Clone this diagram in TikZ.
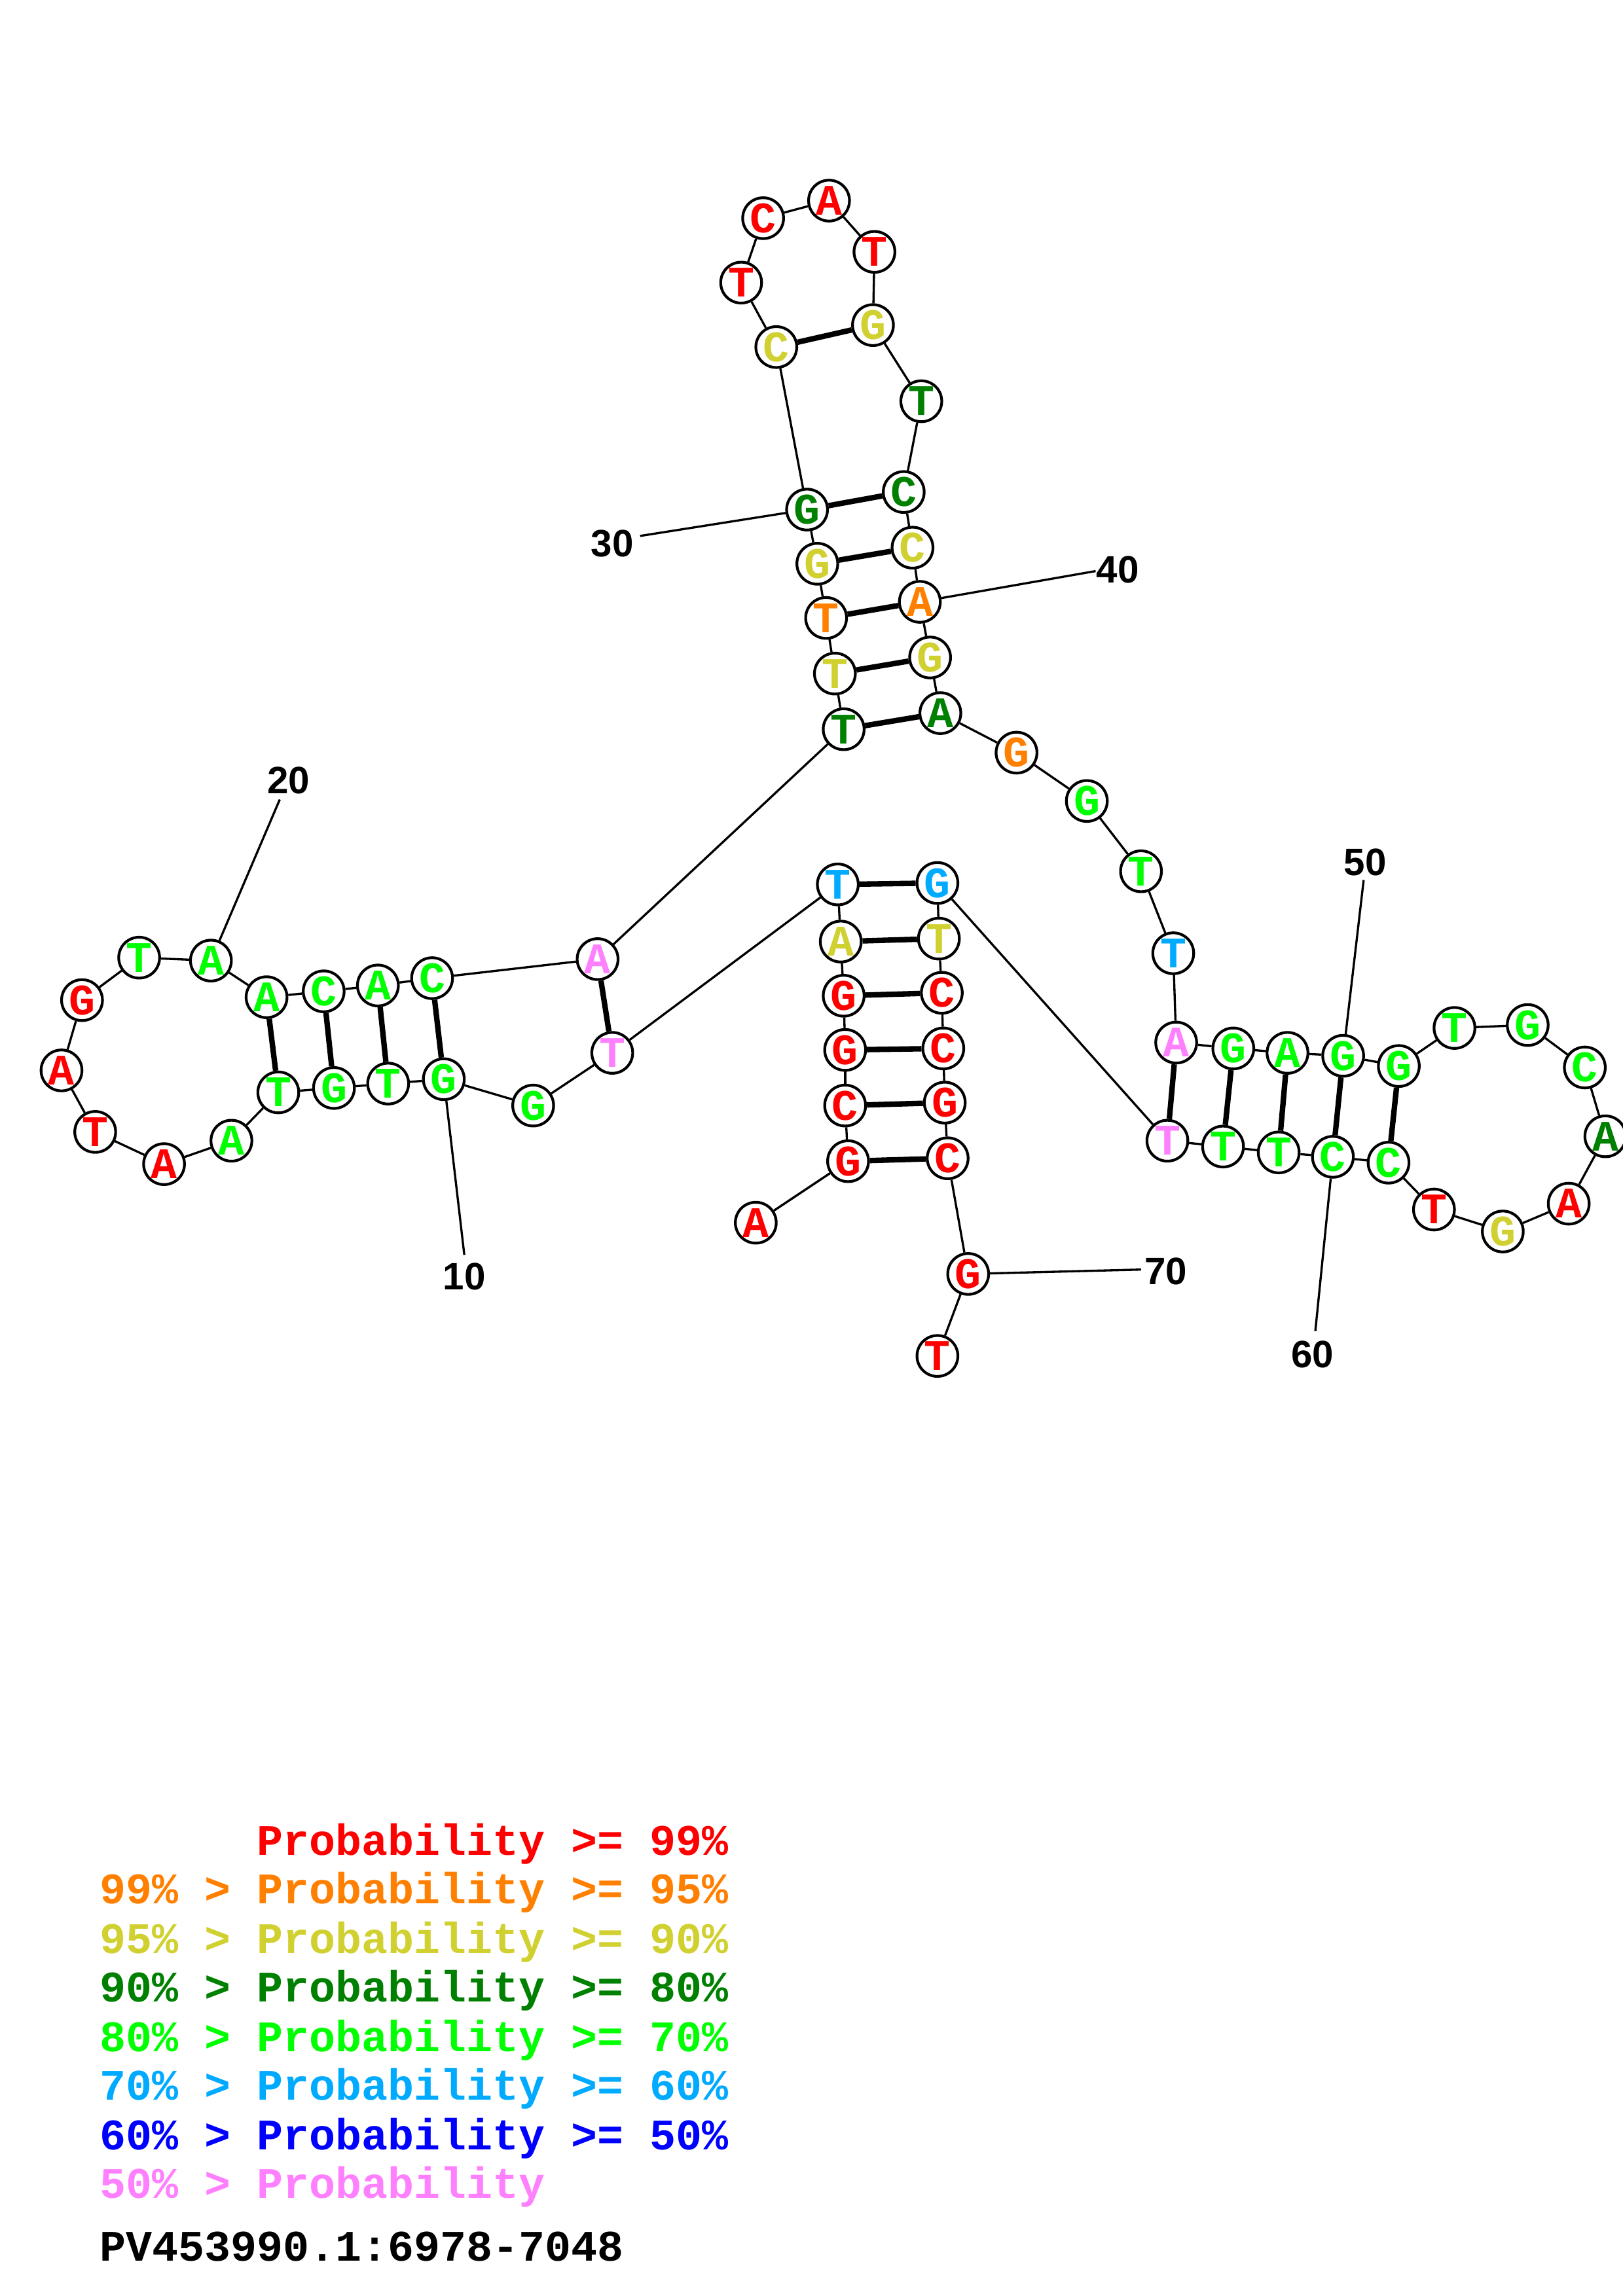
\documentclass[tikz,border=0pt]{standalone}
\usepackage{fontspec}
\newfontfamily\monob{Liberation Mono}
\newfontfamily\sansb{Liberation Sans}
\definecolor{cR}{RGB}{255,0,0}
\definecolor{cO}{RGB}{255,128,0}
\definecolor{cY}{RGB}{208,208,48}
\definecolor{cD}{RGB}{0,128,0}
\definecolor{cG}{RGB}{0,255,0}
\definecolor{cL}{RGB}{0,170,255}
\definecolor{cB}{RGB}{0,0,255}
\definecolor{cP}{RGB}{255,128,255}
\tikzset{
  nt/.style={circle, draw=black, line width=1pt, minimum size=15pt, inner sep=0pt,
    font=\monob\bfseries\fontsize{16}{16}\selectfont},
  bb/.style={line width=0.8pt},
  pairln/.style={line width=2pt},
  numlab/.style={font=\sansb\bfseries\fontsize{14}{14}\selectfont, inner sep=0pt},
  leg/.style={font=\monob\bfseries\fontsize{16}{16}\selectfont, anchor=base west, inner sep=0pt}
}
\begin{document}
\begin{tikzpicture}[x=0.53725pt, y=-0.53725pt]
\useasboundingbox (0,0) rectangle (1108,1568);
\foreach \i/\x/\y/\l/\c in {
1/516/835/A/cR, 2/579/793/G/cR, 3/577/755/C/cR, 4/577/717/G/cR, 5/576/680/G/cR,
6/574/643/A/cY, 7/572/604/T/cL, 8/418/719/T/cP, 9/364/755/G/cG, 10/303/737/G/cG,
11/265/740/T/cG, 12/228/743/G/cG, 13/190/746/T/cG, 14/158/779/A/cG, 15/112/795/A/cR,
16/65/773/T/cR, 17/42/731/A/cR, 18/56/683/G/cR, 19/95/654/T/cG, 20/144/656/A/cG,
21/182/681/A/cG, 22/221/677/C/cG, 23/258/673/A/cG, 24/295/668/C/cG, 25/408/655/A/cP,
26/576/498/T/cD, 27/570/460/T/cY, 28/564/422/T/cO, 29/558/385/G/cY, 30/551/348/G/cD,
31/530/237/C/cY, 32/506/193/T/cR, 33/521/149/C/cR, 34/566/137/A/cR, 35/597/172/T/cR,
36/596/222/G/cY, 37/629/274/T/cD, 38/617/336/C/cD, 39/623/374/C/cY, 40/628/411/A/cO,
41/635/449/G/cY, 42/642/487/A/cD, 43/694/514/G/cO, 44/742/547/G/cG, 45/779/595/T/cG,
46/801/651/T/cL, 47/803/712/A/cP, 48/842/716/G/cG, 49/879/719/A/cG, 50/917/721/G/cG,
51/955/728/G/cG, 52/993/702/T/cG, 53/1043/700/G/cG, 54/1082/729/C/cG, 55/1096/776/A/cD,
56/1071/822/A/cR, 57/1026/841/G/cY, 58/979/826/T/cR, 59/948/794/C/cG, 60/910/790/C/cG,
61/873/787/T/cG, 62/835/783/T/cG, 63/797/779/T/cP, 64/640/603/G/cL, 65/641/641/T/cY,
66/643/678/C/cR, 67/644/716/C/cR, 68/645/753/G/cR, 69/647/791/C/cR, 70/661/870/G/cR,
71/640/926/T/cR}
  \node[nt, text=\c] (n\i) at (\x,\y) {\raisebox{-1pt}{\l}};
\foreach \i in {1,...,70}{
  \pgfmathtruncatemacro{\j}{\i+1}
  \draw[bb] (n\i) -- (n\j);
}
\foreach \a/\b in {2/69,3/68,4/67,5/66,6/65,7/64,8/25,10/24,11/23,12/22,13/21,
  26/42,27/41,28/40,29/39,30/38,31/36,47/63,48/62,49/61,50/60,51/59}
  \draw[pairln] (n\a) -- (n\b);
% position labels
\foreach \k/\nx/\ny/\tx/\ty/\t in {10/317/872/317/857/10, 20/197/533/191/546/20,
  30/418/371/437/366/30, 40/763/389/748/390/40, 50/932/589/931/601/50,
  60/896/925/898/909/60, 70/796/868/779/867/70}{
  \node[numlab] (lab\k) at (\nx,\ny) {\t};
  \coordinate (tick\k) at (\tx,\ty);
  \draw[bb] (n\k) -- (tick\k);
}
% legend
\node[leg, text=cR] (l1) at (68,1267) {\phantom{99\% > }Probability >= 99\%};
\node[leg, text=cO] (l2) at (68,1300) {99\% > Probability >= 95\%};
\node[leg, text=cY] (l3) at (68,1334) {95\% > Probability >= 90\%};
\node[leg, text=cD] (l4) at (68,1367) {90\% > Probability >= 80\%};
\node[leg, text=cG] (l5) at (68,1401) {80\% > Probability >= 70\%};
\node[leg, text=cL] (l6) at (68,1434) {70\% > Probability >= 60\%};
\node[leg, text=cB] (l7) at (68,1468) {60\% > Probability >= 50\%};
\node[leg, text=cP] (l8) at (68,1501) {50\% > Probability};
\node[leg, text=black] (l9) at (68,1544) {PV453990.1:6978-7048};
\end{tikzpicture}
\end{document}
